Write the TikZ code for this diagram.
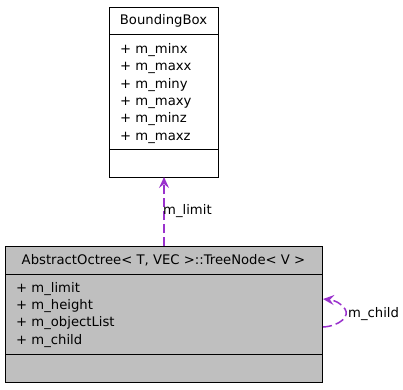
\documentclass[tikz,border=0pt]{standalone}
\usepackage{fontspec}
\setmainfont{DejaVu Sans}
\usetikzlibrary{arrows.meta}
\definecolor{edgepurple}{HTML}{9A32CD}
\definecolor{classgray}{HTML}{BFBFBF}
\tikzset{
  classbox/.style={draw=black, line width=0.9pt},
  txt/.style={inner sep=0pt, anchor=base west, font=\fontsize{13.2}{15}\selectfont},
  ttl/.style={inner sep=0pt, anchor=base, font=\fontsize{13.2}{15}\selectfont},
  usage/.style={draw=edgepurple, line width=1.5pt, dash pattern=on 9pt off 4pt,
    -{Stealth[length=11pt,width=10pt,inset=4pt]}},
}
\begin{document}
\begin{tikzpicture}[x=1pt,y=-1pt]
\useasboundingbox (0,0) rectangle (403,389);

% BoundingBox class
\draw[classbox, fill=white] (109,7) rectangle (218,177);
\draw[classbox] (109,34) -- (218,34);
\draw[classbox] (109,149) -- (218,149);
\node[ttl] (bbtitle) at (163.5,24) {BoundingBox};
\node[txt] (bb1) at (120,53) {+ m\_minx};
\node[txt] (bb2) at (120,70.5) {+ m\_maxx};
\node[txt] (bb3) at (120,88) {+ m\_miny};
\node[txt] (bb4) at (120,105.3) {+ m\_maxy};
\node[txt] (bb5) at (120,122.6) {+ m\_minz};
\node[txt] (bb6) at (120,140) {+ m\_maxz};
\coordinate (bbbottom) at (164,177);

% TreeNode class
\draw[classbox, fill=classgray] (5,246) rectangle (322,382);
\draw[classbox] (5,274) -- (322,274);
\draw[classbox] (5,354) -- (322,354);
\node[ttl] (tntitle) at (163.5,264) {AbstractOctree< T, VEC >::TreeNode< V >};
\node[txt] (tn1) at (16,292.3) {+ m\_limit};
\node[txt] (tn2) at (16,309.3) {+ m\_height};
\node[txt] (tn3) at (16,326.7) {+ m\_objectList};
\node[txt] (tn4) at (16,344) {+ m\_child};
\coordinate (tntop) at (164,246);
\coordinate (loopstart) at (323,327);
\coordinate (loopend) at (323,299);

% associations
\draw[usage] (tntop) -- (bbbottom);
\node[txt] (lbllimit) at (163,214) {m\_limit};
\draw[usage] (loopstart) .. controls (340,326) and (350,316) .. (345,309)
  .. controls (341,303) and (334,300) .. (loopend);
\node[txt] (lblchild) at (348,317.5) {m\_child};
\end{tikzpicture}
\end{document}
